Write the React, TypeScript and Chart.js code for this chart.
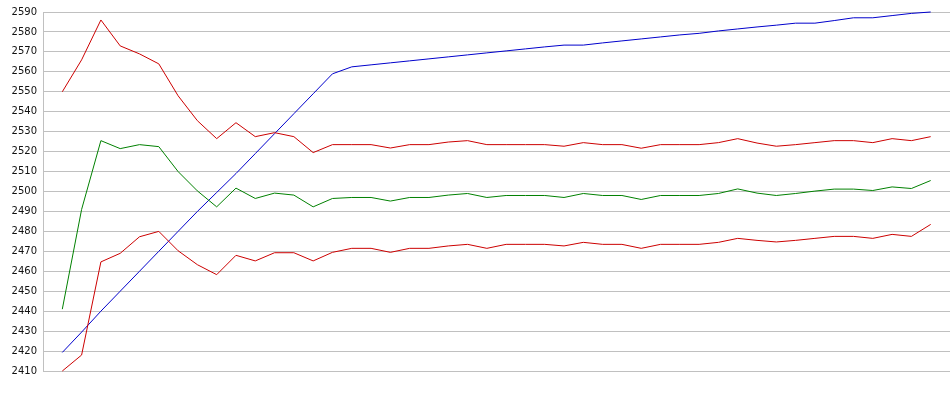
import React, { useEffect, useRef } from "react";
import { Chart, registerables } from "chart.js";

Chart.register(...registerables);

const periods: number[] = [
  0, 1, 2, 3, 4, 5, 6, 7, 8, 9, 10, 11, 12, 13, 14, 15, 16, 17, 18, 19, 20, 21, 22,
  23, 24, 25, 26, 27, 28, 29, 30, 31, 32, 33, 34, 35, 36, 37, 38, 39, 40, 41, 42, 43, 44, 45,
];

const upperBand: number[] = [
  2550, 2566, 2586, 2573, 2569, 2564, 2548, 2535.5, 2526.5, 2534.5, 2527.5, 2529.5, 2527.5, 2519.5,
  2523.5, 2523.5, 2523.5, 2521.8, 2523.5, 2523.5, 2524.8, 2525.5, 2523.5, 2523.5, 2523.5, 2523.5,
  2522.7, 2524.5, 2523.5, 2523.5,
  2521.7, 2523.5, 2523.5, 2523.5, 2524.5, 2526.5, 2524.3, 2522.7, 2523.5, 2524.5, 2525.5, 2525.5,
  2524.5, 2526.5, 2525.5, 2527.5,
];

const middle: number[] = [
  2441, 2491, 2525.5, 2521.5, 2523.5, 2522.5, 2510, 2500.3, 2492.3, 2501.7, 2496.5, 2499.2, 2498.2,
  2492.3,
  2496.5, 2497, 2497, 2495.2, 2497, 2497, 2498.2, 2499, 2497, 2498, 2498, 2498, 2497, 2499, 2498, 2498,
  2496, 2498, 2498, 2498, 2499, 2501.3, 2499.2, 2498, 2499, 2500.2, 2501.2, 2501.2, 2500.5, 2502.3,
  2501.5, 2505.5,
];

const lowerBand: number[] = [
  2410, 2418, 2464.7, 2469, 2477.3, 2480, 2470.3, 2463.3, 2458.3, 2468, 2465.2, 2469.3, 2469.3, 2465.2,
  2469.5, 2471.5, 2471.5, 2469.5, 2471.5, 2471.5, 2472.7, 2473.5, 2471.5, 2473.5, 2473.5, 2473.5,
  2472.7, 2474.5, 2473.5, 2473.5,
  2471.5, 2473.5, 2473.5, 2473.5, 2474.5, 2476.5, 2475.5, 2474.7, 2475.5, 2476.5, 2477.5, 2477.5,
  2476.5, 2478.5, 2477.5, 2483.5,
];

const trend: number[] = [
  2419.3, 2429.5, 2440, 2450, 2460, 2470, 2480, 2490, 2499.5, 2509, 2519, 2529, 2539, 2549, 2559,
  2562.5, 2563.5, 2564.5, 2565.5, 2566.5, 2567.5, 2568.5, 2569.5, 2570.5, 2571.5, 2572.5, 2573.4,
  2573.4, 2574.5, 2575.5,
  2576.5, 2577.5, 2578.5, 2579.3, 2580.5, 2581.5, 2582.5, 2583.4, 2584.4, 2584.4, 2585.7, 2587.1,
  2587.1, 2588.2, 2589.3, 2590,
];

const yMin = 2410;
const yMax = 2590;
const yStep = 10;

const toPoints = (vals: number[]) => vals.map((v, i) => ({ x: periods[i], y: v }));

export default function App() {
  const ref = useRef<HTMLCanvasElement | null>(null);

  useEffect(() => {
    if (!ref.current) return;
    const line = (data: number[], color: string) => ({
      data: toPoints(data),
      borderColor: color,
      backgroundColor: color,
      borderWidth: 1,
      pointRadius: 0,
      tension: 0,
      fill: false,
      clip: false as const,
    });
    const chart = new Chart(ref.current, {
      type: "line",
      data: {
        datasets: [
          line(upperBand, "#cc0000"),
          line(middle, "#008000"),
          line(lowerBand, "#cc0000"),
          line(trend, "#0000cc"),
        ],
      },
      options: {
        animation: false,
        responsive: false,
        devicePixelRatio: 1,
        layout: { padding: { top: 10, bottom: 24, left: 0, right: 0 } },
        plugins: { legend: { display: false }, tooltip: { enabled: false }, title: { display: false } },
        scales: {
          x: {
            type: "linear",
            min: -1,
            max: 46,
            display: false,
          },
          y: {
            type: "linear",
            min: yMin,
            max: yMax,
            afterFit: (scale: any) => {
              scale.width = 43;
            },
            ticks: {
              stepSize: yStep,
              padding: 6,
              color: "#111",
              font: { family: "DejaVu Sans", size: 10 },
              callback: (value: any) => String(value),
            },
            grid: {
              color: "#c0c0c0",
              drawTicks: false,
              lineWidth: 1,
            },
            border: { color: "#c0c0c0", width: 1 },
          },
        },
      },
    });
    return () => chart.destroy();
  }, []);

  return (
    <div style={{ position: "fixed", left: 0, top: 0, width: 950, height: 395, background: "#fff" }}>
      <canvas ref={ref} width={950} height={395} />
    </div>
  );
}
